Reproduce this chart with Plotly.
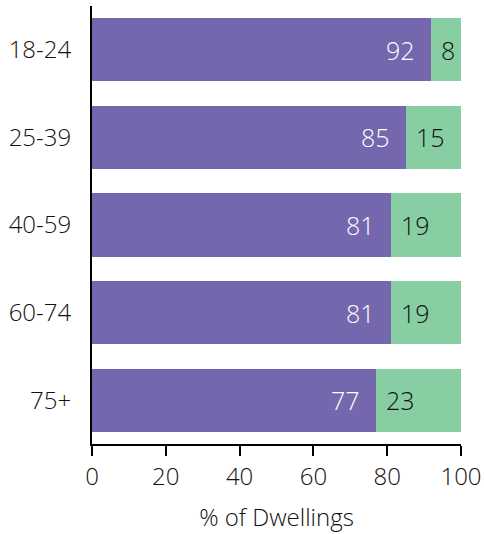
import plotly.graph_objects as go

# Share of dwellings by age group of the household reference person
age_groups = ["18-24", "25-39", "40-59", "60-74", "75+"]
purple_share = [92, 85, 81, 81, 77]
green_share = [8, 15, 19, 19, 23]
x_ticks = [0, 20, 40, 60, 80, 100]

PURPLE = "#7467ad"
GREEN = "#88cea3"
FONT = "Open Sans"
INK = "#111111"

fig = go.Figure()
fig.add_trace(go.Bar(
    y=age_groups, x=purple_share, orientation="h",
    marker=dict(color=PURPLE, line=dict(width=0)), hoverinfo="x+y",
))
fig.add_trace(go.Bar(
    y=age_groups, x=green_share, orientation="h",
    marker=dict(color=GREEN, line=dict(width=0)), hoverinfo="x+y",
))

# Value labels: white at the end of the purple segment, dark at the start of the green one
for cat, p, g in zip(age_groups, purple_share, green_share):
    fig.add_annotation(x=p, y=cat, text=str(p), showarrow=False,
                       xanchor="right", xshift=-14,
                       font=dict(family=FONT, size=25, color="white", weight=300))
    fig.add_annotation(x=p, y=cat, text=str(g), showarrow=False,
                       xanchor="left", xshift=8,
                       font=dict(family=FONT, size=25, color=INK, weight=300))

fig.update_layout(
    barmode="stack",
    bargap=0.28,
    showlegend=False,
    width=484, height=534,
    margin=dict(l=92, r=23, t=6, b=90),
    plot_bgcolor="white", paper_bgcolor="white",
    font=dict(family=FONT, size=24, color=INK, weight=300),
    xaxis=dict(
        range=[0, 100], tickvals=x_ticks, showgrid=False, zeroline=False,
        showline=True, linecolor="black", linewidth=2,
        ticks="outside", ticklen=10, tickwidth=2, tickcolor="black",
        tickfont=dict(size=24, weight=300), automargin=False,
        title=dict(text="% of Dwellings", standoff=18,
                   font=dict(size=24, weight=300)),
    ),
    yaxis=dict(
        autorange="reversed", showgrid=False, zeroline=False,
        showline=True, linecolor="black", linewidth=2,
        ticks="", ticklabelstandoff=14, automargin=False,
        tickfont=dict(size=24, weight=300),
    ),
)

fig.write_html("out.html")
